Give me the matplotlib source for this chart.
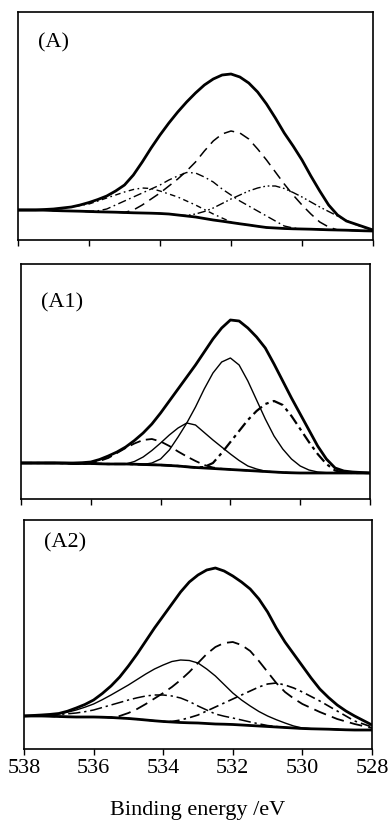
import numpy as np
import matplotlib
matplotlib.use("Agg")
import matplotlib.pyplot as plt

plt.rcParams['font.family'] = ['Liberation Serif', 'DejaVu Serif']

# binding energy grid (eV) 538 -> 528 in 0.25 eV steps, shared by every curve
energy = [538.0, 537.75, 537.5, 537.25, 537.0, 536.75, 536.5, 536.25, 536.0, 535.75,
          535.5, 535.25, 535.0, 534.75, 534.5, 534.25, 534.0, 533.75, 533.5, 533.25,
          533.0, 532.75, 532.5, 532.25, 532.0, 531.75, 531.5, 531.25, 531.0, 530.75,
          530.5, 530.25, 530.0, 529.75, 529.5, 529.25, 529.0, 528.75, 528.5, 528.25, 528.0]
ticks = [538, 536, 534, 532, 530, 528]

# panel (A)
base_A = [30, 30, 30, 29.8, 29.5, 29.2, 29, 28.8, 28.5, 28.2, 28, 27.8, 27.5, 27.2, 27, 26.8, 26.5, 26, 25, 24,
          23, 21.5, 20, 18.8, 17.5, 16.2, 15, 13.7, 12.5, 12, 11.5, 11.2, 11, 10.8, 10.5, 10.2, 10, 9.8, 9.5, 9.2, 9]
env_A = [30, 30, 30, 30.5, 31, 32, 33, 35, 37.5, 40.5, 44, 49, 55, 65, 78, 92, 105, 117, 128, 138,
         147, 155, 161, 165, 166, 163, 157, 148, 136, 122, 107, 94, 80, 64, 49, 35, 25, 19, 16, 13, 10]
p1_A = [30, 30, 30, 29.8, 29.5, 29.2, 29, 28.8, 28.5, 28.2, 28, 27.8, 27.5, 30, 35, 41, 47, 54, 61, 69,
        78, 89, 99, 106, 109, 107, 101, 91, 80, 68, 56, 45, 35, 26, 18, 13, 10, 9.8, 9.5, 9.2, 9]
p2_A = [30, 30, 30, 29.8, 29.5, 29.2, 29, 28.8, 28.5, 29.2, 31, 35, 39, 43, 47, 51, 55, 60, 64, 67.5,
        67, 63, 58, 51, 45, 39, 34, 29, 24, 19, 14, 12, 11, 10.8, 10.5, 10.2, 10, 9.8, 9.5, 9.2, 9]
p3_A = [30, 30, 30, 30.2, 30.5, 31.5, 33, 34.5, 36, 39, 42, 45, 48, 50.5, 52, 51.5, 49, 46, 43, 39,
        35, 30.5, 26, 22, 18, 16.2, 15, 13.7, 12.5, 12, 11.5, 11.2, 11, 10.8, 10.5, 10.2, 10, 9.8, 9.5, 9.2, 9]
p4_A = [30, 30, 30, 29.8, 29.5, 29.2, 29, 28.8, 28.5, 28.2, 28, 27.8, 27.5, 27.2, 27, 26.8, 26.5, 26, 25, 24.5,
        26, 28.5, 32, 36.5, 41, 45, 49, 52, 54, 54, 51.5, 47.5, 43, 38, 33, 28.5, 24, 19.5, 15.5, 12.5, 10]

# panel (A1)
base_A1 = [36, 36, 36, 36, 36, 35.8, 35.5, 35.5, 35.5, 35.2, 35, 35, 35, 34.8, 34.5, 34.2, 34, 33.5, 33, 32.2,
           31.5, 31, 30.5, 30, 29.5, 29, 28.5, 28, 27.5, 27, 26.5, 26.2, 26, 26, 26, 26, 26, 26, 26, 26, 26]
env_A1 = [36, 36, 36, 36, 36, 36, 36, 36.3, 37, 39.5, 43, 47, 52, 58.5, 66, 75, 86, 98, 110, 122,
          134, 147, 160, 171, 179, 178, 171, 162, 151, 135, 118, 101, 85, 69, 53, 40, 31, 28, 27, 26.5, 26]
p1_A1 = [36, 36, 36, 36, 36, 35.8, 35.5, 35.5, 35.5, 35.2, 35, 35, 35, 34.8, 34.5, 36, 40, 49, 62, 76,
         92, 110, 126, 137, 141, 134, 118, 99, 80, 63, 50, 40, 33, 29, 27, 26.3, 26, 26, 26, 26, 26]
p2_A1 = [36, 36, 36, 36, 36, 35.8, 35.5, 35.5, 35.5, 35.2, 35, 35, 35, 37.5, 42, 48.5, 56, 64, 71, 76,
         74, 66.5, 59, 52, 45, 38.5, 33, 30, 27.8, 27, 26.5, 26.2, 26, 26, 26, 26, 26, 26, 26, 26, 26]
p3_A1 = [36, 36, 36, 36, 36, 35.8, 35.5, 35.5, 36, 38, 41, 46, 51, 55.5, 59, 60, 57.5, 53, 47.5, 42.5,
         38, 34, 31.5, 30.2, 29.5, 29, 28.5, 28, 27.5, 27, 26.5, 26.2, 26, 26, 26, 26, 26, 26, 26, 26, 26]
p4_A1 = [36, 36, 36, 36, 36, 35.8, 35.5, 35.5, 35.5, 35.2, 35, 35, 35, 34.8, 34.5, 34.2, 34, 33.5, 33, 32.2,
         31.5, 32, 36, 46, 57, 68, 79, 88, 95, 98, 94, 83, 70, 57, 45, 35, 28.5, 26.5, 26, 26, 26]

# panel (A2)
base_A2 = [33, 33, 33, 32.8, 32.5, 32.2, 32, 32, 32, 31.8, 31.5, 31, 30.5, 29.8, 29, 28.2, 27.5, 27, 26.5, 26.2,
           26, 25.5, 25, 24.8, 24.5, 24, 23.5, 23, 22.5, 22, 21.5, 21, 20.5, 20.2, 20, 19.8, 19.5, 19.2, 19, 19, 19]
env_A2 = [33, 33.5, 34, 34.6, 35.5, 37.8, 41, 44.5, 49, 55.5, 63, 72, 83, 95, 108, 121, 133, 145, 157, 167,
          174, 179, 181, 178, 173, 167, 160, 150, 137, 121, 107, 95, 83, 71, 60, 51.5, 44, 38, 33, 28.5, 24]
p1_A2 = [33, 33, 33, 32.8, 32.5, 32.2, 32, 32, 32, 31.8, 31.5, 33, 36, 40, 45, 50.5, 56, 62, 69, 77,
         86, 95, 102, 106, 107, 104, 98, 88, 77, 66, 57, 50.5, 45, 41, 37, 33.5, 30, 27.5, 25, 23, 21]
p2_A2 = [33, 33.4, 34, 34.4, 35, 36.8, 39, 41.8, 45, 49.3, 54, 59, 64, 69.5, 75, 80, 84, 87.5, 89, 88.5,
         86, 80, 73, 64.5, 56, 49, 43, 37.5, 33, 29.3, 26, 23, 21, 20.3, 20, 19.8, 19.5, 19.2, 19, 19, 19]
p3_A2 = [33, 33.2, 33.5, 34, 34.5, 35.2, 36, 37.3, 39, 41.5, 44, 46.5, 49, 51.2, 53, 54, 54, 53, 51, 47.5,
         43, 39, 35, 32.8, 31, 29, 27, 25.2, 23.5, 22.5, 21.5, 21, 20.5, 20.2, 20, 19.8, 19.5, 19.2, 19, 19, 19]
p4_A2 = [33, 33, 33, 32.8, 32.5, 32.2, 32, 32, 32, 31.8, 31.5, 31, 30.5, 29.8, 29, 28.2, 27.5, 27.5, 29, 31.3,
         34, 38, 42, 46, 50, 54, 58, 62, 65, 66, 64, 61, 57, 52.5, 48, 43, 38, 33, 28, 25, 22]

W, H = 390, 821
fig = plt.figure(figsize=(W / 100, H / 100), dpi=100)

# (left, right, top, bottom) of each panel in pixels
boxes = [(18, 373, 12, 240), (21, 370, 264, 499), (24, 372, 520, 749)]
labels = ["(A)", "(A1)", "(A2)"]
label_y = [43, 303, 543]

long_dash = (0, (7, 4))
dash_dot = (0, (6, 2.5, 1.2, 2.5))
short_dash_dot = (0, (4, 2.5, 1.2, 2.5))
dash_dot_dot = (0, (6, 2, 1.2, 2, 1.2, 2))

panels = [
    (base_A, env_A, [(p1_A, long_dash, 1.1), (p2_A, dash_dot, 1.0),
                     (p3_A, short_dash_dot, 1.0), (p4_A, dash_dot_dot, 1.0)]),
    (base_A1, env_A1, [(p1_A1, '-', 1.0), (p2_A1, '-', 1.0),
                       (p3_A1, (0, (6, 3)), 1.3), (p4_A1, (0, (5, 2, 1.5, 2)), 1.6)]),
    (base_A2, env_A2, [(p1_A2, (0, (7, 3.5)), 1.3), (p2_A2, '-', 1.0),
                       (p3_A2, (0, (8, 2.5, 1.5, 2.5)), 1.1), (p4_A2, (0, (6, 2.5, 1.5, 2.5)), 1.2)]),
]

for i, (box, (base, env, comps)) in enumerate(zip(boxes, panels)):
    l, r, t, b = box
    ax = fig.add_axes([l / W, 1 - b / H, (r - l) / W, (b - t) / H])
    for comp, ls, lw in comps:
        ax.plot(energy, comp, color='black', linestyle=ls, linewidth=lw,
                solid_joinstyle='round', dash_joinstyle='round')
    ax.plot(energy, base, color='black', linewidth=2.0, solid_joinstyle='round')
    ax.plot(energy, env, color='black', linewidth=2.0, solid_joinstyle='round')
    ax.set_xlim(538, 528)
    ax.set_ylim(0, b - t)
    ax.set_xticks(ticks)
    ax.set_yticks([])
    ax.tick_params(axis='x', direction='out', length=4, width=1.0, pad=3, labelsize=16)
    if i < 2:
        ax.tick_params(axis='x', labelbottom=False)
    for s in ax.spines.values():
        s.set_linewidth(1.2)
    ax.text(20 / (r - l), (b - label_y[i]) / (b - t), labels[i],
            transform=ax.transAxes, fontsize=16, ha='left', va='center')

fig.text(198 / W, 1 - 815 / H, "Binding energy /eV", ha='center', va='baseline', fontsize=16)

fig.savefig("out.png", dpi=100)
